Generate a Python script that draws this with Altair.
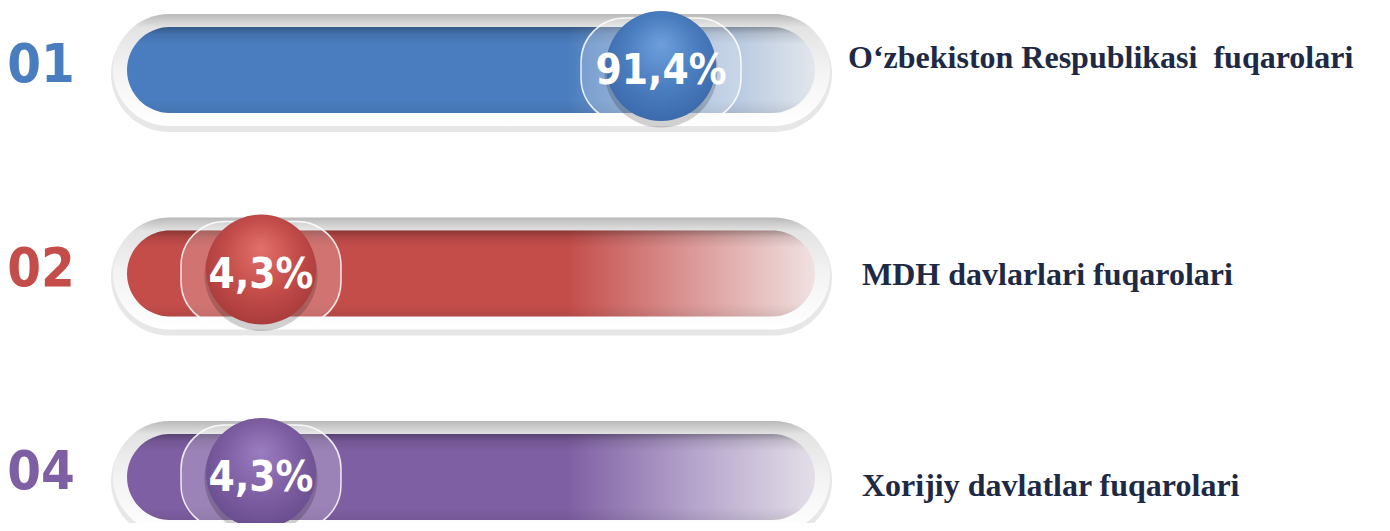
import altair as alt
import pandas as pd

# ---- data ----
codes = ["01", "02", "04"]
values = [91.4, 4.3, 4.3]
labels = ["O\u2018zbekiston Respublikasi \u00a0fuqarolari",
          "MDH davlarlari fuqarolari",
          "Xorijiy davlatlar fuqarolari"]

# ---- styles ----
base_col = ["#4a7dbf", "#c44d4a", "#7f5fa3"]
mid_col = ["#a4bcdb", "#dc9c9b", "#b7a6cd"]
end_col = ["#e2e6ec", "#f0e1e1", "#e3dfe8"]
light_col = ["#6f9fdc", "#e2706b", "#9a7dc0"]
dark_col = ["#3a68a9", "#a5393a", "#664b8c"]
label_dy = [-12, 1, 9]
label_dx = [33, 47, 47]
COND = "'Noto Sans ExtraCondensed', 'Noto Sans Condensed', 'DejaVu Sans Condensed', 'Liberation Sans Narrow', sans-serif"

df = pd.DataFrame({"code": codes, "value": values, "label": labels})

W, H = 1374, 515
Y = alt.Y("code:O", scale=alt.Scale(type="point", domain=codes, range=[62, 469], padding=0), axis=None)
track_scale = alt.Scale(domain=[0, 100], range=[119, 807])
bub_scale = alt.Scale(domain=[0, 100], range=[233.25, 692.5])

def tx0():
    return alt.X(datum=0, type="quantitative", scale=track_scale, axis=None)

def tx1():
    return alt.X2(datum=100)

base = alt.Chart(df)

def lin(stops, horiz=True):
    return alt.LinearGradient(
        gradient="linear",
        stops=[alt.GradientStop(offset=o, color=c) for o, c in stops],
        x1=0, y1=0, x2=1 if horiz else 0, y2=0 if horiz else 1)

layers = []
# outer shadow
layers.append(base.mark_bar(size=116, cornerRadius=58, color="#d4d4d4", opacity=0.55,
                            xOffset=-16, x2Offset=17, yOffset=4)
              .encode(x=tx0(), x2=tx1(), y=Y))
# rim
layers.append(base.mark_bar(size=112, cornerRadius=56,
                            color=lin([(0, "#b9b9b9"), (0.12, "#e3e3e3"), (0.5, "#f3f3f3"), (1, "#ffffff")], horiz=False),
                            xOffset=-14, x2Offset=15)
              .encode(x=tx0(), x2=tx1(), y=Y))

for i, c in enumerate(codes):
    sub = base.transform_filter(alt.datum.code == c)
    grad = lin([(0, base_col[i]), (0.64, base_col[i]), (0.83, mid_col[i]), (1, end_col[i])])
    layers.append(sub.mark_bar(size=86, cornerRadius=43, color=grad)
                  .encode(x=tx0(), x2=tx1(), y=Y))

# inner top shadow
layers.append(base.mark_bar(size=86, cornerRadius=43,
                            color=lin([(0, "rgba(0,0,0,0.30)"), (0.08, "rgba(0,0,0,0.10)"),
                                       (0.2, "rgba(0,0,0,0)"), (0.85, "rgba(0,0,0,0)"),
                                       (1, "rgba(0,0,0,0.08)")], horiz=False))
              .encode(x=tx0(), x2=tx1(), y=Y))

BX = alt.X("value:Q", scale=bub_scale, axis=None)
# halo lens
layers.append(base.mark_bar(size=104, cornerRadius=44, color="#ffffff", opacity=0.22,
                            xOffset=-80, x2Offset=80)
              .encode(x=BX, x2="value:Q", y=Y))
layers.append(base.mark_bar(size=104, cornerRadius=44, fill="transparent", stroke="#ffffff",
                            strokeOpacity=0.85, strokeWidth=1.5, xOffset=-80, x2Offset=80)
              .encode(x=BX, x2="value:Q", y=Y))
# ball shadow
layers.append(base.mark_circle(size=12800, color="#000000", opacity=0.18, yOffset=1)
              .encode(x=BX, y=Y))

for i, c in enumerate(codes):
    sub = base.transform_filter(alt.datum.code == c)
    rg = alt.RadialGradient(
        gradient="radial",
        stops=[alt.GradientStop(offset=0, color=light_col[i]),
               alt.GradientStop(offset=0.55, color=base_col[i]),
               alt.GradientStop(offset=1, color=dark_col[i])],
        x1=0.5, y1=0.3, r1=0, x2=0.5, y2=0.45, r2=0.6)
    layers.append(sub.mark_circle(size=12100, fill=rg, fillOpacity=1, opacity=1, yOffset=-4)
                  .encode(x=BX, y=Y))

# value text
layers.append(base.transform_calculate(
    txt="replace(format(datum.value, '.1f'), '.', ',') + '%'")
    .mark_text(font=COND, fontWeight="bold", fontSize=42,
               color="#ffffff", align="center", baseline="middle", dy=1)
    .encode(x=BX, y=Y, text="txt:N"))

for i, c in enumerate(codes):
    sub = base.transform_filter(alt.datum.code == c)
    layers.append(sub.mark_text(font=COND, fontWeight="bold", fontSize=54,
                                color=base_col[i], align="center", baseline="middle",
                                dx=-86, dy=-4)
                  .encode(x=tx0(), y=Y, text="code:N"))
    layers.append(sub.mark_text(font="Liberation Serif", fontWeight="bold", fontSize=32,
                                color="#1e2a45", align="left", baseline="middle",
                                dx=label_dx[i], dy=label_dy[i])
                  .encode(x=alt.X(datum=100, type="quantitative", scale=track_scale, axis=None),
                          y=Y, text="label:N"))

chart = (alt.layer(*layers)
         .resolve_scale(x="independent")
         .properties(width=W, height=H, autosize=alt.AutoSizeParams(type="none"), padding=0,
                     background="#ffffff")
         .configure_view(stroke=None))

chart.save("out.html", embed_options={"renderer": "svg", "actions": False})
